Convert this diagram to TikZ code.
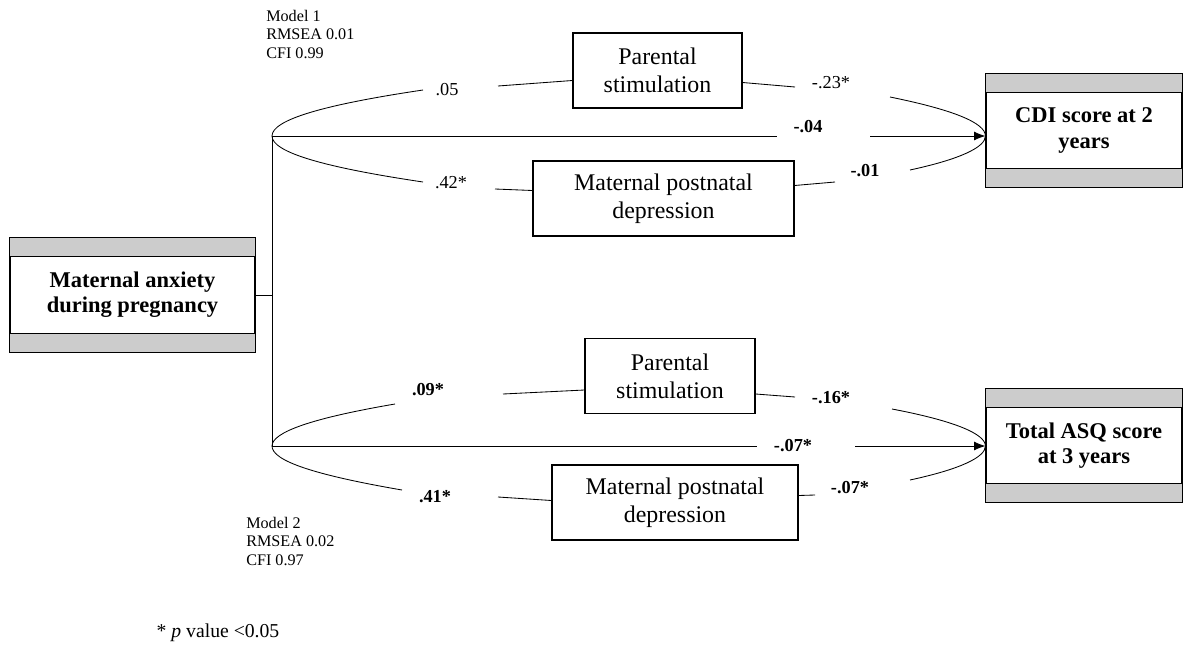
\documentclass[tikz,border=0pt]{standalone}
\usepackage{fontspec}
\setmainfont{Liberation Serif}
\usetikzlibrary{calc,arrows.meta}

\tikzset{
  medbox/.style={draw, line width=0.8pt, align=center, inner sep=2pt,
    minimum height=1.875cm, font=\fontsize{17}{20}\selectfont},
  endbox/.style={draw, line width=0.8pt, align=center, inner sep=2pt,
    minimum height=2.825cm, font=\fontsize{16}{18}\selectfont\bfseries},
  band/.style={draw, line width=0.8pt, fill=gray!40},
  coef/.style={inner sep=0pt, font=\fontsize{13}{15}\selectfont},
  coefb/.style={coef, font=\fontsize{13}{15}\selectfont\bfseries},
  fitinfo/.style={inner sep=0pt, anchor=north west, align=left,
    font=\fontsize{11.5}{13}\selectfont},
  link/.style={line width=0.6pt},
  arr/.style={link, -{Latex[length=2.8mm,width=2.2mm]}}
}

\begin{document}
\begin{tikzpicture}[x=0.025cm, y=-0.025cm]
\useasboundingbox (0,0) rectangle (1184,645);

% boxes
\node[endbox, minimum width=6.125cm] (anx) at (132.5,295) {Maternal anxiety\\during pregnancy};
\node[endbox, minimum width=4.9cm] (cdi) at (1084,130.5) {CDI score at 2\\years};
\node[endbox, minimum width=4.9cm] (asq) at (1084,445.5) {Total ASQ score\\at 3 years};
\foreach \b in {anx,cdi,asq} {
  \draw[band] (\b.north west) rectangle ($(\b.north east)+(0,19)$);
  \draw[band] (\b.south west) rectangle ($(\b.south east)+(0,-19)$);
}
\node[medbox, minimum width=4.225cm] (ps1) at (657.5,70.5) {Parental\\stimulation};
\node[medbox, minimum width=6.525cm] (md1) at (663.5,198.5) {Maternal postnatal\\depression};
\node[medbox, minimum width=4.25cm] (ps2) at (670,376) {Parental\\stimulation};
\node[medbox, minimum width=6.15cm] (md2) at (675,502.5) {Maternal postnatal\\depression};

% fit indices
\node[fitinfo] (fit1) at (266,10) {Model 1\\RMSEA 0.01\\CFI 0.99};
\node[fitinfo] (fit2) at (246,517) {Model 2\\RMSEA 0.02\\CFI 0.97};
\node[inner sep=0pt, font=\fontsize{14}{16}\selectfont] (note) at (218,633) {* \textit{p} value <0.05};

% junctions and line ends
\coordinate (jn1) at (272,136);
\coordinate (jn2) at (272,446);
\coordinate (tip1) at (cdi.west |- jn1);
\coordinate (tip2) at (asq.west |- jn2);
\coordinate (p1a) at (423,90);  \coordinate (p1b) at (498,86);
\coordinate (p1c) at (795,87);  \coordinate (p1d) at (890,97);
\coordinate (d1a) at (777,136); \coordinate (d1b) at (870,136);
\coordinate (m1a) at (423,182); \coordinate (m1b) at (495,189);
\coordinate (m1c) at (835,182); \coordinate (m1d) at (910,170);
\coordinate (p2a) at (395,404); \coordinate (p2b) at (503,394);
\coordinate (p2c) at (795,397); \coordinate (p2d) at (892,409);
\coordinate (d2a) at (757,446); \coordinate (d2b) at (855,446);
\coordinate (m2a) at (402,490); \coordinate (m2b) at (498,497);
\coordinate (m2c) at (815,495); \coordinate (m2d) at (910,480);

\draw[link] (anx.east) -- (anx.east -| jn1);
\draw[link] (jn1) -- (jn2);

% model 1
\draw[link] (jn1) .. controls +(0,-16) and +(-101,15) .. (p1a);
\draw[link] (p1b) -- ($(ps1.west)+(0,10)$);
\draw[link] ($(ps1.east)+(0,12)$) -- (p1c);
\draw[link] (p1d) .. controls +(64,13) and +(0,-13) .. (tip1);
\draw[link] (jn1) -- (d1a);
\draw[arr] (d1b) -- (tip1);
\draw[link] (jn1) .. controls +(0,16) and +(-101,-15) .. (m1a);
\draw[link] (m1b) -- ($(md1.west)+(0,-8)$);
\draw[link] ($(md1.east)+(0,-13)$) -- (m1c);
\draw[link] (m1d) .. controls +(51,-11) and +(0,11) .. (tip1);

\node[coef]  (c05) at (447,90) {.05};
\node[coef]  (c23) at (831,83) {-.23*};
\node[coefb] (c04) at (808,127) {-.04};
\node[coef]  (c42) at (451,183) {.42*};
\node[coefb] (c01) at (865,171) {-.01};

% model 2
\draw[link] (jn2) .. controls +(0,-14) and +(-82,14) .. (p2a);
\draw[link] (p2b) -- ($(ps2.west)+(0,14)$);
\draw[link] ($(ps2.east)+(0,18)$) -- (p2c);
\draw[link] (p2d) .. controls +(63,12) and +(0,-12) .. (tip2);
\draw[link] (jn2) -- (d2a);
\draw[arr] (d2b) -- (tip2);
\draw[link] (jn2) .. controls +(0,15) and +(-87,-15) .. (m2a);
\draw[link] (m2b) -- ($(md2.west)+(0,-2)$);
\draw[link] ($(md2.east)+(0,-7)$) -- (m2c);
\draw[link] (m2d) .. controls +(51,-11) and +(0,11) .. (tip2);

\node[coefb] (c09) at (428,390) {.09*};
\node[coefb] (c16) at (831,398) {-.16*};
\node[coefb] (c07a) at (793,446) {-.07*};
\node[coefb] (c41) at (435,497) {.41*};
\node[coefb] (c07b) at (850,488) {-.07*};
\end{tikzpicture}
\end{document}
